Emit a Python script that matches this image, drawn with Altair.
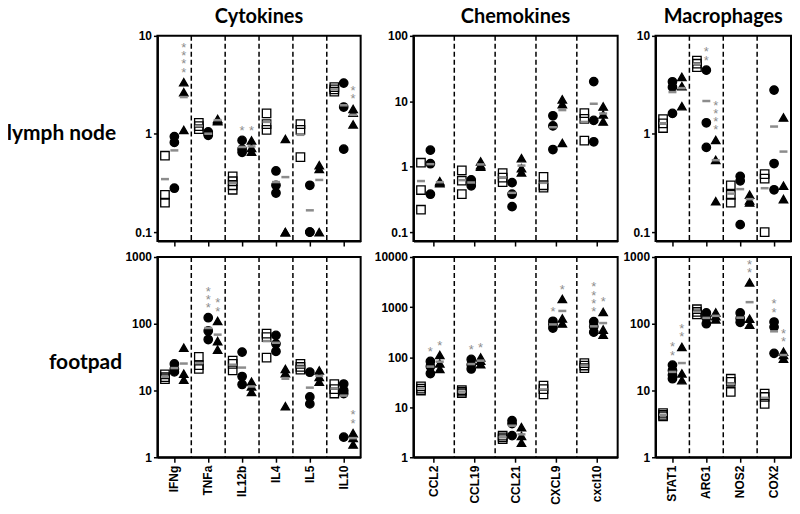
import altair as alt
import pandas as pd

GROUPS = ["sq", "ci", "tr"]

# ---------------- lymph node ----------------
ln_cyto_cats = ["IFNg", "TNFa", "IL12b", "IL4", "IL5", "IL10"]
ln_cyto_sq = [[0.60, 0.24, 0.20], [1.30, 1.20, 1.12], [0.37, 0.33, 0.30, 0.27], [1.62, 1.26, 1.10], [1.26, 1.10, 0.58], [3.0, 2.85, 2.7]]
ln_cyto_ci = [[0.94, 0.82, 0.28], [1.05, 1.0, 0.97], [0.86, 0.70, 0.65], [0.42, 0.30, 0.25], [0.30, 0.10, 0.10], [3.3, 1.88, 0.70]]
ln_cyto_tr = [[3.37, 2.66, 1.10], [1.42, 1.38, 1.35], [0.86, 0.72, 0.66], [0.89, 0.10, 0.10], [0.48, 0.44, 0.10], [1.80, 1.65, 1.25]]
ln_cyto_st_sq = [0, 0, 0, 0, 0, 0]
ln_cyto_st_ci = [0, 0, 1, 0, 0, 0]
ln_cyto_st_tr = [4, 0, 1, 0, 0, 2]

ln_chemo_cats = ["CCL2", "CCL19", "CCL21", "CXCL9", "cxcl10"]
ln_chemo_sq = [[1.15, 0.44, 0.22], [0.88, 0.61, 0.38], [0.80, 0.68, 0.58], [0.70, 0.52, 0.48], [6.6, 5.4, 2.5]]
ln_chemo_ci = [[1.79, 1.11, 0.38], [0.63, 0.58, 0.51], [0.57, 0.38, 0.245], [6.0, 4.2, 1.83], [20.0, 5.1, 2.4]]
ln_chemo_tr = [[0.60, 0.58, 0.56], [1.2, 1.05, 1.0], [1.35, 0.95, 0.82], [10.7, 9.0, 2.3], [8.3, 6.3, 4.9]]
ln_chemo_st_sq = [0, 0, 0, 0, 0]
ln_chemo_st_ci = [0, 0, 0, 0, 0]
ln_chemo_st_tr = [0, 0, 0, 0, 0]

ln_macro_cats = ["STAT1", "ARG1", "NOS2", "COX2"]
ln_macro_sq = [[1.42, 1.28, 1.15], [5.6, 5.2, 4.8], [0.30, 0.24, 0.20], [0.39, 0.35, 0.10]]
ln_macro_ci = [[3.4, 3.0, 1.62], [4.47, 1.30, 0.73], [0.37, 0.333, 0.119], [2.8, 0.50, 0.27]]
ln_macro_tr = [[3.82, 3.07, 1.92], [0.87, 0.545, 0.206], [0.24, 0.21, 0.20], [1.47, 0.297, 0.217]]
ln_macro_st_sq = [0, 0, 0, 0]
ln_macro_st_ci = [0, 2, 0, 0]
ln_macro_st_tr = [0, 4, 0, 0]

# ---------------- footpad ----------------
fp_cyto_sq = [[17.5, 15.8, 14.8], [32, 24, 21], [28, 25, 20], [71, 63, 31], [25, 22.5, 20.5], [12.5, 10.5, 9.0]]
fp_cyto_ci = [[25, 21, 19], [123, 78, 58], [37.6, 16.2, 12.3], [67, 50, 38.5], [18.8, 8.0, 6.3], [12.5, 10, 9, 2.0]]
fp_cyto_tr = [[43.7, 17.8, 14.5], [110, 55, 41], [13.5, 11.5, 9.5], [21, 18.2, 5.8], [20, 16, 13.5], [2.3, 1.95, 1.55]]
fp_cyto_st_sq = [0, 0, 0, 0, 0, 0]
fp_cyto_st_ci = [0, 3, 0, 0, 0, 0]
fp_cyto_st_tr = [0, 2, 0, 0, 0, 2]

fp_chemo_sq = [[26, 23.5, 21.5], [22, 20.5, 19], [2.7, 2.5, 2.3], [27, 23, 18], [76, 68, 60]]
fp_chemo_ci = [[82, 65, 47], [90, 70, 58], [5.4, 4.7, 2.7], [520, 450, 380], [510, 410, 315]]
fp_chemo_tr = [[110, 75, 58], [98, 85, 72], [4.0, 2.65, 1.95], [1450, 590, 470], [800, 355, 282]]
fp_chemo_st_sq = [0, 0, 0, 0, 0]
fp_chemo_st_ci = [1, 1, 0, 1, 4]
fp_chemo_st_tr = [1, 1, 0, 1, 1]

fp_macro_sq = [[4.6, 4.3, 4.1], [165, 150, 138], [15, 13.5, 9.5], [9, 8, 6.3]]
fp_macro_ci = [[24, 20, 17, 15], [145, 122, 100], [145, 120, 105], [106, 89, 36]]
fp_macro_tr = [[45, 18, 14.3], [148, 130, 116], [416, 119, 97], [38, 34, 30]]
fp_macro_st_sq = [0, 0, 0, 0]
fp_macro_st_ci = [2, 0, 0, 2]
fp_macro_st_tr = [2, 0, 2, 2]

col_titles = ["Cytokines", "Chemokines", "Macrophages"]
row_labels = ["lymph node", "footpad"]


def build_points(cats, sq, ci, tr):
    rows = []
    for g, vals in zip(GROUPS, [sq, ci, tr]):
        for c, vs in zip(cats, vals):
            for v in vs:
                rows.append({"cat": c, "grp": g, "value": v})
    return pd.DataFrame(rows)


def build_stars(cats, sq, ci, tr, s1, s2, s3):
    rows = []
    for g, vals, st in zip(GROUPS, [sq, ci, tr], [s1, s2, s3]):
        for c, vs, n in zip(cats, vals, st):
            if n > 0:
                rows.append({"cat": c, "grp": g, "top": max(vs), "n": n})
    return rows


def make_panel(cats, sq, ci, tr, s1, s2, s3, domain, ticks, width, height, bottom,
               title=None, row_label=None, title_x=0, title_y=0):
    pts = build_points(cats, sq, ci, tr)
    stars = build_stars(cats, sq, ci, tr, s1, s2, s3)
    seps = pd.DataFrame({"cat": cats[1:]})

    xscale = alt.Scale(domain=cats, paddingInner=0, paddingOuter=0)
    xaxis = alt.Axis(title=None, labels=bottom, labelAngle=-90 if bottom else 0,
                     tickSize=5, labelPadding=3)
    ykw = dict(values=ticks, format="~g", tickSize=4, labelPadding=2)
    if row_label:
        yaxis = alt.Axis(title=row_label, titleAngle=0, titleAlign="right", titleBaseline="middle",
                         titleX=title_x, titleY=title_y, titleFont="Lato", titleFontSize=21,
                         titleFontWeight="bold", titleColor="black", **ykw)
    else:
        yaxis = alt.Axis(title=None, **ykw)
    yscale = alt.Scale(type="log", domain=domain, nice=False)

    def X(**k):
        return alt.X("cat:N", sort=cats, scale=xscale, axis=xaxis, **k)

    XO = alt.XOffset("grp:N", sort=GROUPS,
                     scale=alt.Scale(domain=GROUPS, paddingOuter=0.3, paddingInner=0))

    rules = alt.Chart(seps).mark_rule(strokeDash=[5, 3], strokeWidth=1.5, color="black").encode(
        x=X(bandPosition=0))

    points = alt.Chart(pts).mark_point(filled=True, size=72, stroke="black", strokeWidth=1.3,
                                       opacity=1).encode(
        x=X(), xOffset=XO,
        y=alt.Y("value:Q", scale=yscale, axis=yaxis),
        shape=alt.Shape("grp:N", scale=alt.Scale(domain=GROUPS, range=["square", "circle", "triangle-up"]),
                        legend=None),
        fill=alt.Fill("grp:N", scale=alt.Scale(domain=GROUPS, range=["transparent", "black", "black"]),
                      legend=None),
    )

    means = alt.Chart(pts).mark_tick(color="#8c8c8c", thickness=2.5, size=8, opacity=1).encode(
        x=X(), xOffset=XO,
        y=alt.Y("mean(value):Q", scale=yscale, axis=yaxis),
    )

    layers = [rules, points, means]
    if stars:
        max_n = max(r["n"] for r in stars)
        for k in range(max_n):
            st = alt.Chart(alt.Data(values=stars)).transform_filter(
                f"datum.n > {k}"
            ).mark_text(
                text="*", baseline="middle", dy=-9.5 - 8.3 * k, fontSize=13, color="#8c8c8c",
                font="Liberation Sans").encode(
                x=X(), xOffset=XO,
                y=alt.Y("top:Q", scale=yscale, axis=yaxis),
            )
            layers.append(st)

    if title:
        tl = alt.Chart(alt.Data(values=[{"t": title}])).mark_text(
            font="Lato", fontSize=20, fontWeight="bold", color="black", align="center",
            baseline="alphabetic").encode(
            text="t:N", x=alt.value(width / 2), y=alt.value(-13))
        layers.append(tl)

    return alt.layer(*layers).properties(width=width, height=height)


TOP_H = 206
BOT_H = 201

p1 = make_panel(ln_cyto_cats, ln_cyto_sq, ln_cyto_ci, ln_cyto_tr, ln_cyto_st_sq, ln_cyto_st_ci, ln_cyto_st_tr,
                [0.081, 10], [0.1, 1, 10], 204, TOP_H, False, title=col_titles[0],
                row_label=row_labels[0], title_x=-42, title_y=98)
p2 = make_panel(ln_chemo_cats, ln_chemo_sq, ln_chemo_ci, ln_chemo_tr, ln_chemo_st_sq, ln_chemo_st_ci,
                ln_chemo_st_tr, [0.073, 100], [0.1, 1, 10, 100], 205, TOP_H, False, title=col_titles[1])
p3 = make_panel(ln_macro_cats, ln_macro_sq, ln_macro_ci, ln_macro_tr, ln_macro_st_sq, ln_macro_st_ci,
                ln_macro_st_tr, [0.081, 10], [0.1, 1, 10], 136, TOP_H, False, title=col_titles[2])
p4 = make_panel(ln_cyto_cats, fp_cyto_sq, fp_cyto_ci, fp_cyto_tr, fp_cyto_st_sq, fp_cyto_st_ci, fp_cyto_st_tr,
                [1, 1000], [1, 10, 100, 1000], 204, BOT_H, True,
                row_label=row_labels[1], title_x=-36, title_y=106)
p5 = make_panel(ln_chemo_cats, fp_chemo_sq, fp_chemo_ci, fp_chemo_tr, fp_chemo_st_sq, fp_chemo_st_ci,
                fp_chemo_st_tr, [1, 10000], [1, 10, 100, 1000, 10000], 205, BOT_H, True)
p6 = make_panel(ln_macro_cats, fp_macro_sq, fp_macro_ci, fp_macro_tr, fp_macro_st_sq, fp_macro_st_ci,
                fp_macro_st_tr, [1, 1000], [1, 10, 100, 1000], 136, BOT_H, True)

col1 = alt.vconcat(p1, p4, spacing=16, bounds="flush")
col2 = alt.vconcat(p2, p5, spacing=16, bounds="flush")
col3 = alt.vconcat(p3, p6, spacing=16, bounds="flush")

chart = alt.hconcat(alt.hconcat(col1, col2, spacing=11), col3, spacing=3).properties(
    padding={"top": -3, "left": -3, "right": 0, "bottom": 0}, background="white"
).configure_view(
    stroke="black", strokeWidth=2
).configure_axis(
    grid=False, domainColor="black", domainWidth=2, tickColor="black", tickWidth=1.5,
    labelFont="Liberation Sans", labelFontWeight="bold", labelFontSize=12, labelColor="black"
)

chart.save("out.html", embed_options={"renderer": "svg", "actions": False})
